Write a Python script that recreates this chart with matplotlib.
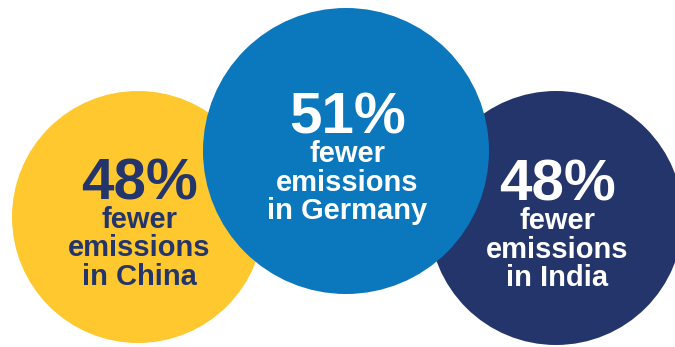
import matplotlib.pyplot as plt
from matplotlib.patches import Circle

countries = ['China', 'Germany', 'India']
reductions = [48, 51, 48]

# layout in pixel units (x, y of centre, radius), drawing order
centres = [(138, 217), (346, 151), (556, 218)]
radii = [126, 143, 127]
fills = ['#FEC82E', '#0B77BD', '#23356A']
text_colors = ['#23356A', '#FFFFFF', '#FFFFFF']
z_order = [1, 3, 2]

W, H = 675, 347

plt.rcParams['font.family'] = ['Liberation Sans', 'DejaVu Sans']

fig = plt.figure(figsize=(W / 100, H / 100), dpi=100)
ax = fig.add_axes([0, 0, 1, 1])
ax.set_xlim(0, W)
ax.set_ylim(H, 0)
ax.set_aspect('equal')
ax.axis('off')

for i, country in enumerate(countries):
    cx, cy = centres[i]
    ax.add_patch(Circle((cx, cy), radii[i], facecolor=fills[i],
                        edgecolor='none', zorder=z_order[i]))

    # big percentage, then three lines of caption
    base = cy - 18
    ax.text(cx + 2, base, f'{reductions[i]}%', color=text_colors[i],
            fontsize=42, fontweight='bold', ha='center', va='baseline',
            zorder=z_order[i] + 0.5)
    lines = ['fewer', 'emissions', f'in {country}']
    for j, line in enumerate(lines):
        ax.text(cx + 1, base + 29 + j * 28.5, line, color=text_colors[i],
                fontsize=21, fontweight='bold', ha='center', va='baseline',
                zorder=z_order[i] + 0.5)

fig.savefig('out.png', dpi=100)
